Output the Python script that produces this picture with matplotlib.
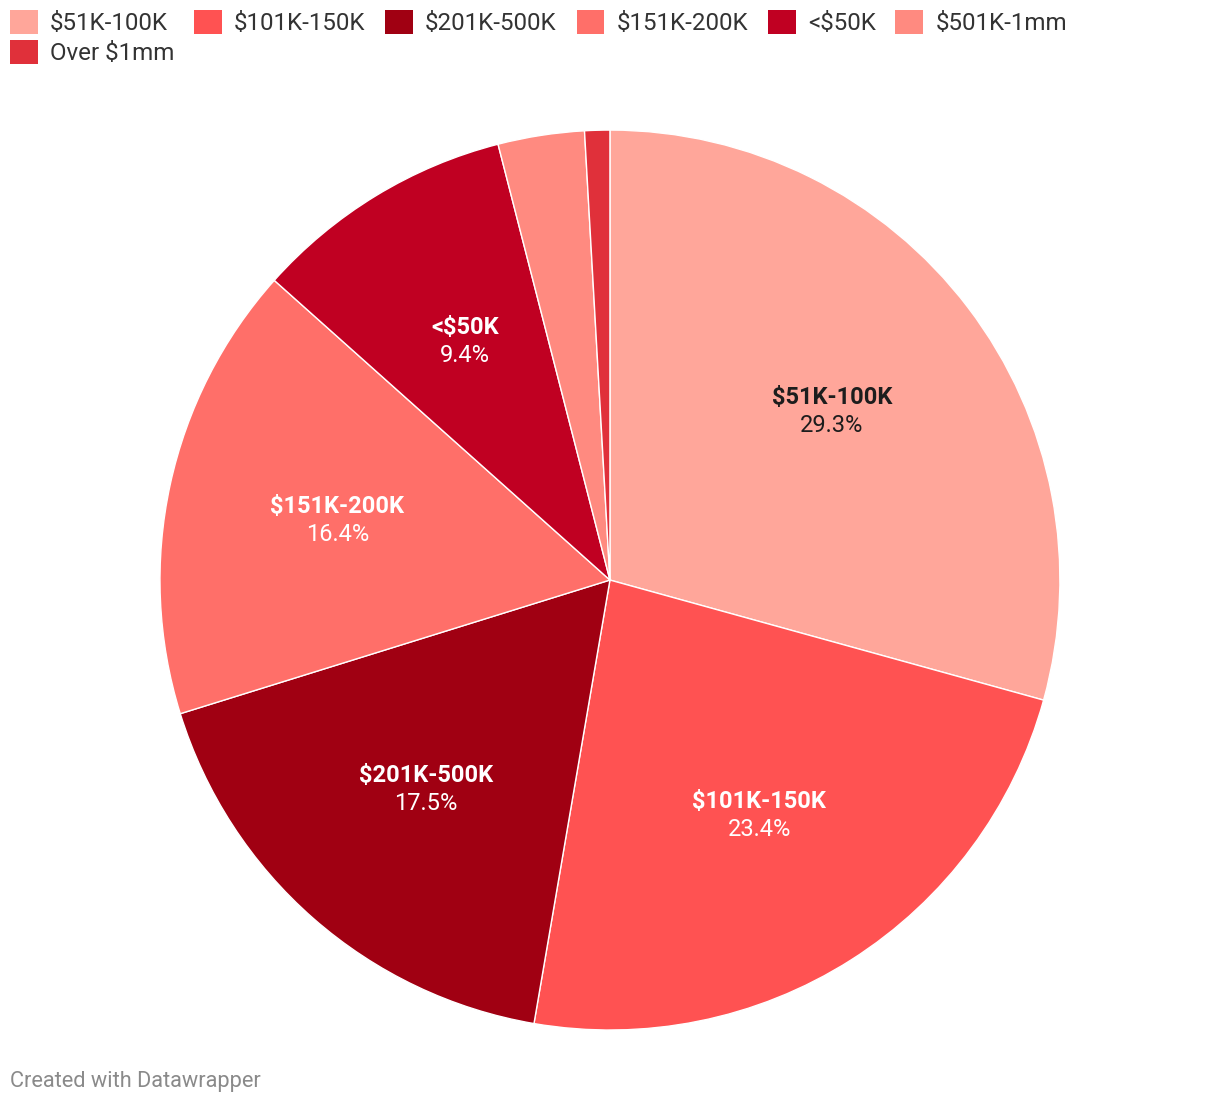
import numpy as np
import matplotlib.pyplot as plt

plt.rcParams['font.family'] = ['Roboto', 'DejaVu Sans']

# slices, clockwise from 12 o'clock
categories = ['$51K-100K', '$101K-150K', '$201K-500K', '$151K-200K', '<$50K', '$501K-1mm', 'Over $1mm']
shares = [29.3, 23.4, 17.5, 16.4, 9.4, 3.1, 0.9]
colors = ['#ffa69a', '#ff5252', '#a00012', '#ff6f69', '#c00022', '#ff8a80', '#e0303a']
label_colors = ['#1d1d1d', 'white', 'white', 'white', 'white', None, None]

fig = plt.figure(figsize=(12.2, 11.06), dpi=100)
ax = fig.add_axes([0.1311, 0.0687, 0.7377, 0.8137])

wedges, _ = ax.pie(shares, colors=colors, startangle=90, counterclock=False,
                   wedgeprops=dict(edgecolor='white', linewidth=1))
ax.set_xlim(-1, 1)
ax.set_ylim(-1, 1)
ax.set_aspect('equal')

# labels inside the large slices
r = 0.62
for w, name, val, lc in zip(wedges, categories, shares, label_colors):
    if lc is None:
        continue
    mid = np.deg2rad((w.theta1 + w.theta2) / 2)
    x, y = r * np.cos(mid), r * np.sin(mid)
    ax.text(x, y + 0.031, name, ha='center', va='center', fontsize=17,
            fontweight='bold', color=lc)
    ax.text(x, y - 0.031, f'{val}%', ha='center', va='center', fontsize=17,
            color=lc)

# legend, row-major order via column ordering
order = [0, 6, 1, 2, 3, 4, 5]
leg = fig.legend([wedges[i] for i in order], [categories[i] for i in order],
                 loc='upper left', bbox_to_anchor=(10 / 1220, 1 - 10 / 1106),
                 ncol=6, frameon=False, fontsize=17.4, borderaxespad=0, borderpad=0,
                 handlelength=1.15, handleheight=1.15, handletextpad=0.5,
                 columnspacing=0.82, labelspacing=0.2)
for t in leg.get_texts():
    t.set_color('#333333')
for h in leg.legend_handles:
    h.set_edgecolor('none')

fig.text(10 / 1220, 1 - 1082 / 1106, 'Created with Datawrapper', fontsize=15.7,
         color='#8a8a8a', ha='left', va='center')

fig.savefig('out.png', dpi=100, facecolor='white')
